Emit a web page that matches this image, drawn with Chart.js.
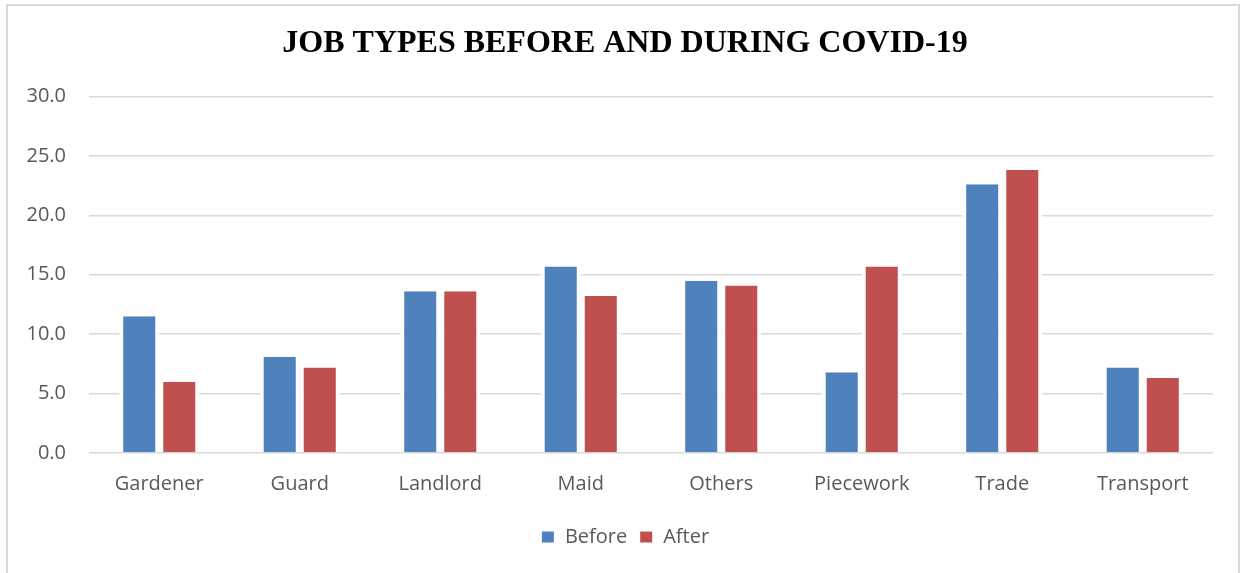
<!DOCTYPE html>
<html>
<head>
<meta charset="utf-8">
<script src="https://cdn.jsdelivr.net/npm/chart.js@4/dist/chart.umd.min.js"></script>
<style>
  html, body { margin: 0; padding: 0; background: #fff; }
  #wrap { position: relative; width: 1244px; height: 573px; }
  #frame { position: absolute; left: 6px; top: 4px; width: 1234px; height: 580px; border: 2px solid #d9d9d9; box-sizing: border-box; pointer-events: none; }
  canvas { position: absolute; left: 0; top: 0; }
</style>
</head>
<body>
<div id="wrap">
  <canvas id="chart" width="1244" height="573"></canvas>
  <div id="frame"></div>
</div>
<script>
// Job categories on the horizontal axis
const categories = ['Gardener', 'Guard', 'Landlord', 'Maid', 'Others', 'Piecework', 'Trade', 'Transport'];
// Share of respondents (%) per job type
const beforeValues = [11.5, 8.1, 13.6, 15.7, 14.5, 6.8, 22.6, 7.2];
const afterValues  = [6.0, 7.2, 13.6, 13.2, 14.1, 15.7, 23.8, 6.3];
const seriesNames = ['Before', 'After'];
const yTicks = [0, 5, 10, 15, 20, 25, 30];

const labelFont = { family: '"Open Sans", sans-serif', size: 20 };
const textColor = '#595959';

new Chart(document.getElementById('chart'), {
  type: 'bar',
  data: {
    labels: categories,
    datasets: [
      { label: seriesNames[0], data: beforeValues, backgroundColor: '#4f81bd',
        borderColor: '#ffffff', borderWidth: { left: 4, right: 4, top: 0, bottom: 0 }, borderSkipped: false },
      { label: seriesNames[1], data: afterValues, backgroundColor: '#c0504d',
        borderColor: '#ffffff', borderWidth: { left: 4, right: 4, top: 0, bottom: 0 }, borderSkipped: false }
    ]
  },
  options: {
    responsive: false,
    animation: false,
    devicePixelRatio: 1,
    layout: { padding: { left: 6, right: 0, top: 0, bottom: 16 } },
    datasets: { bar: { barPercentage: 1, categoryPercentage: 0.57 } },
    plugins: {
      title: {
        display: true,
        text: 'JOB TYPES BEFORE AND DURING COVID-19',
        color: '#000000',
        font: { family: '"Liberation Serif", "Times New Roman", serif', size: 32, weight: 'bold', lineHeight: 1.2 },
        padding: { top: 25, bottom: 33 }
      },
      legend: {
        display: true,
        position: 'bottom',
        labels: {
          color: textColor,
          font: labelFont,
          boxWidth: 14,
          boxHeight: 13,
          padding: 12
        }
      },
      tooltip: { enabled: false }
    },
    scales: {
      x: {
        grid: { display: false, drawTicks: false },
        border: { display: false },
        ticks: { color: textColor, font: labelFont, padding: 19, maxRotation: 0 }
      },
      y: {
        min: 0,
        max: 30,
        afterBuildTicks: (scale) => { scale.ticks = yTicks.map(v => ({ value: v })); },
        afterFit: (scale) => { scale.width = 83; },
        grid: { color: '#d9d9d9', lineWidth: 1.5, drawTicks: false },
        border: { display: false },
        ticks: { color: textColor, font: labelFont, padding: 23, callback: (v) => Number(v).toFixed(1) }
      },
      // empty right-hand margin so the plot ends before the frame
      yRight: {
        axis: 'y',
        position: 'right',
        min: 0,
        max: 30,
        afterFit: (scale) => { scale.width = 31; },
        grid: { display: false, drawTicks: false },
        border: { display: false },
        ticks: { display: false }
      }
    }
  }
});
</script>
</body>
</html>
